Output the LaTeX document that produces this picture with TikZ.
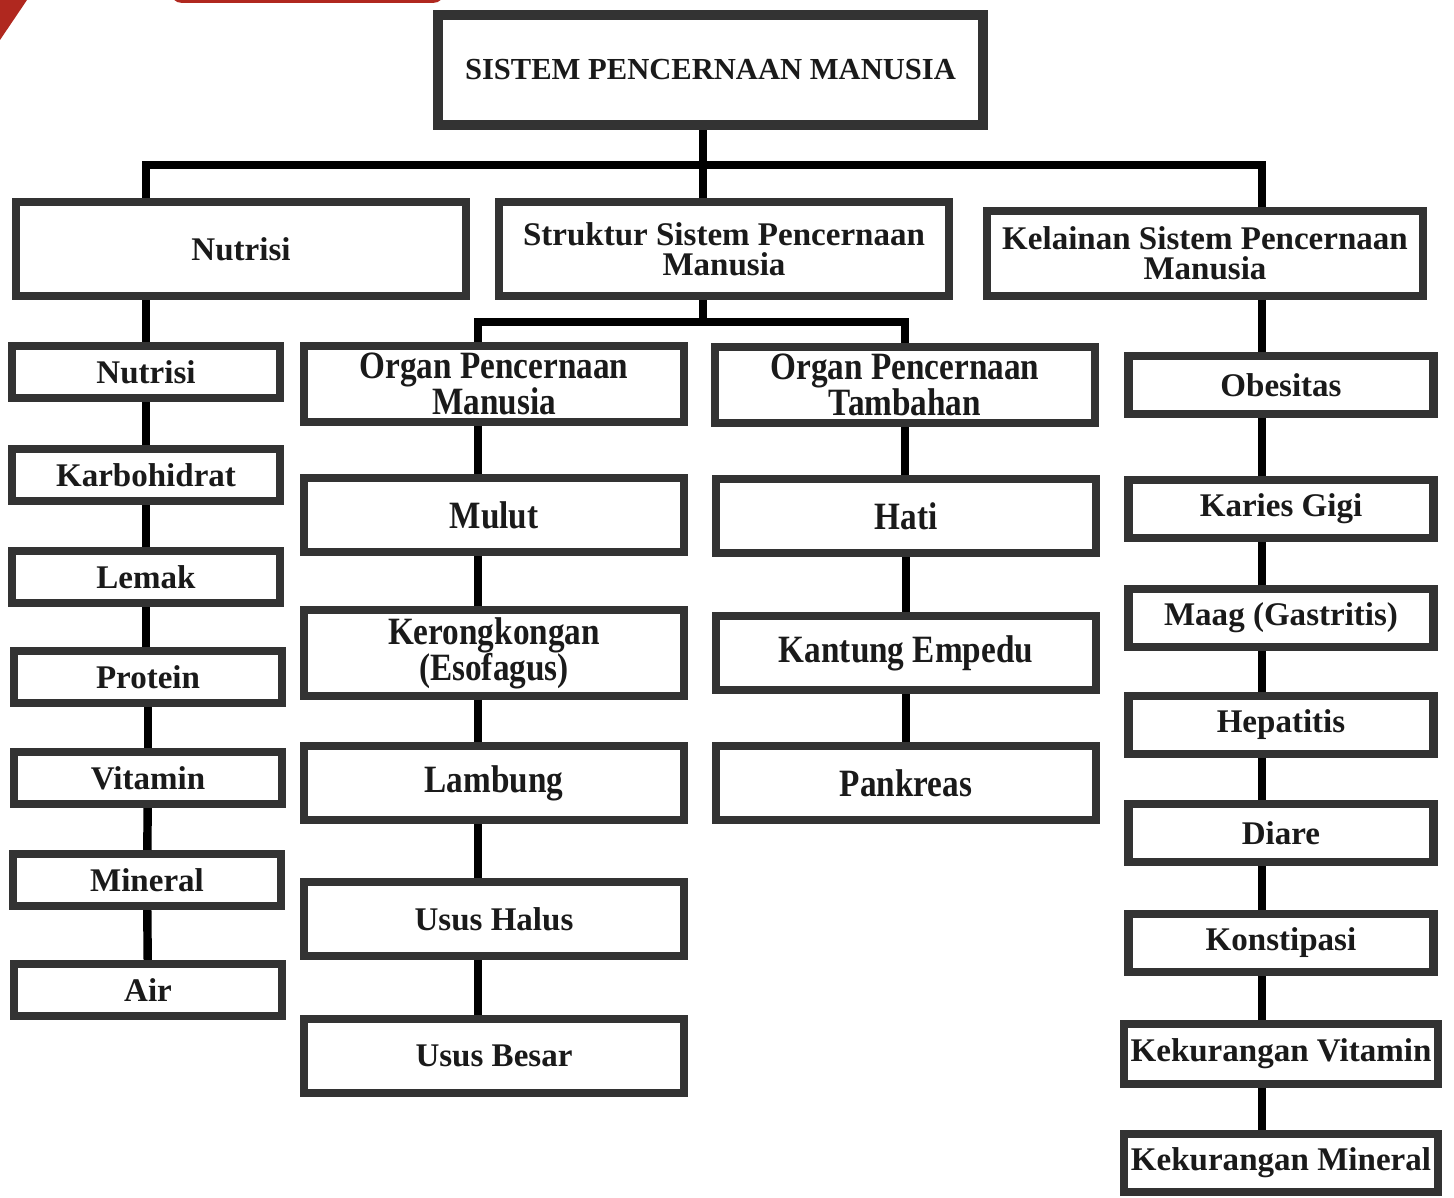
\documentclass[tikz,border=0pt]{standalone}
\usepackage{fontspec}
\setmainfont{Liberation Serif}
\newfontfamily\condfont{Liberation Serif}[FakeStretch=0.86]
\newcommand\tightlines{\lineskiplimit=-20pt\relax}

\definecolor{boxgray}{HTML}{333333}
\definecolor{inkblack}{HTML}{1A1A1A}
\definecolor{accentred}{HTML}{B0281F}

\tikzset{
  box/.style={draw=boxgray, line width=2.3pt, fill=white, text=inkblack, inner sep=2pt,
    align=center, font=\fontsize{9.4}{8.4}\selectfont\bfseries\tightlines},
  cond/.style={font=\condfont\fontsize{11}{10.2}\selectfont\bfseries\tightlines},
  titlebox/.style={box, line width=2.85pt, minimum width=5.45cm, minimum height=1.10cm,
    font=\fontsize{8.7}{9}\selectfont\bfseries},
  headbox/.style={box, minimum width=4.50cm, minimum height=0.94cm},
  nutbox/.style={box, minimum width=2.68cm, minimum height=0.52cm},
  organbox/.style={box, minimum width=3.80cm, minimum height=0.74cm},
  sickbox/.style={box, minimum width=3.05cm, minimum height=0.58cm},
  link/.style={draw=black, line width=2.4pt},
}

\begin{document}
\begin{tikzpicture}
  \useasboundingbox (0,0) rectangle (14.54,-11.98);

  % red corner bits of the page
  \begin{scope}
    \clip (0,0) rectangle (14.54,-11.98);
    \fill[accentred] (0,0) -- (0.27,0) -- (0,-0.40) -- cycle;
    \fill[accentred, rounded corners=0.12cm] (1.70,0.30) rectangle (4.45,-0.03);
  \end{scope}

  \node [titlebox] (title) at (7.105,-0.70) {SISTEM PENCERNAAN MANUSIA};

  \node [headbox] (nutH) at (2.41,-2.49) {Nutrisi};
  \node [headbox] (strH) at (7.24,-2.49) {Struktur Sistem Pencernaan\\Manusia};
  \node [headbox, minimum width=4.36cm, minimum height=0.85cm] (kelH) at (12.05,-2.535) {Kelainan Sistem Pencernaan\\Manusia};

  % nutrisi
  \node [nutbox] (n1) at (1.46,-3.72) {Nutrisi};
  \node [nutbox] (n2) at (1.46,-4.75) {Karbohidrat};
  \node [nutbox] (n3) at (1.46,-5.77) {Lemak};
  \node [nutbox] (n4) at (1.48,-6.77) {Protein};
  \node [nutbox] (n5) at (1.48,-7.78) {Vitamin};
  \node [nutbox] (n6) at (1.47,-8.80) {Mineral};
  \node [nutbox] (n7) at (1.48,-9.90) {Air};

  % organ pencernaan manusia
  \node [organbox, cond] (o1) at (4.94,-3.84) {Organ Pencernaan\\Manusia};
  \node [organbox, cond] (o2) at (4.94,-5.15) {Mulut};
  \node [organbox, cond] (o3) at (4.94,-6.53) {Kerongkongan\\(Esofagus)};
  \node [organbox, cond] (o4) at (4.94,-7.83) {Lambung};
  \node [organbox] (o5) at (4.94,-9.19) {Usus Halus};
  \node [organbox] (o6) at (4.94,-10.56) {Usus Besar};

  % organ pencernaan tambahan
  \node [organbox, cond] (t1) at (9.05,-3.85) {Organ Pencernaan\\Tambahan};
  \node [organbox, cond] (t2) at (9.06,-5.16) {Hati};
  \node [organbox, cond] (t3) at (9.06,-6.53) {Kantung Empedu};
  \node [organbox, cond] (t4) at (9.06,-7.83) {Pankreas};

  % kelainan
  \node [sickbox] (k1) at (12.81,-3.85) {Obesitas};
  \node [sickbox] (k2) at (12.81,-5.09) {Karies Gigi};
  \node [sickbox] (k3) at (12.81,-6.18) {Maag (Gastritis)};
  \node [sickbox] (k4) at (12.81,-7.25) {Hepatitis};
  \node [sickbox] (k5) at (12.81,-8.33) {Diare};
  \node [sickbox] (k6) at (12.81,-9.43) {Konstipasi};
  \node [sickbox, minimum height=0.60cm] (k7) at (12.81,-10.54) {Kekurangan Vitamin};
  \node [sickbox] (k8) at (12.81,-11.63) {Kekurangan Mineral};

  % junctions and rules
  \coordinate (top) at (7.03,-1.65);
  \coordinate (mid) at (7.03,-3.22);
  \coordinate (oline) at (4.78,-4.5);
  \coordinate (kline) at (12.62,-3.0);

  \draw[link] (title.south -| top) -- (top);
  \draw[link] (nutH.north -| n1) |- (top) -| (kelH.north -| kline);
  \draw[link] (top) -- (strH.north -| top);
  \draw[link] (strH.south -| mid) -- (mid);
  \draw[link] (o1.north -| oline) |- (mid) -| (t1.north);

  \draw[link] (nutH.south -| n1) -- (n1.north);
  \draw[link] (n1) -- (n2);
  \draw[link] (n2) -- (n3);
  \draw[link] (n3.south) -- (n3.south |- n4.north);
  \draw[link] (n4) -- (n5);
  \draw[link] (n5) -- (n6);
  \draw[link] (n6) -- (n7);

  \draw[link] (o1.south -| oline) -- (o2.north -| oline);
  \draw[link] (o2.south -| oline) -- (o3.north -| oline);
  \draw[link] (o3.south -| oline) -- (o4.north -| oline);
  \draw[link] (o4.south -| oline) -- (o5.north -| oline);
  \draw[link] (o5.south -| oline) -- (o6.north -| oline);

  \draw[link] (t1.south) -- (t1.south |- t2.north);
  \draw[link] (t2) -- (t3);
  \draw[link] (t3) -- (t4);

  \draw[link] (kelH.south -| kline) -- (k1.north -| kline);
  \draw[link] (k1.south -| kline) -- (k2.north -| kline);
  \draw[link] (k2.south -| kline) -- (k3.north -| kline);
  \draw[link] (k3.south -| kline) -- (k4.north -| kline);
  \draw[link] (k4.south -| kline) -- (k5.north -| kline);
  \draw[link] (k5.south -| kline) -- (k6.north -| kline);
  \draw[link] (k6.south -| kline) -- (k7.north -| kline);
  \draw[link] (k7.south -| kline) -- (k8.north -| kline);
\end{tikzpicture}
\end{document}
